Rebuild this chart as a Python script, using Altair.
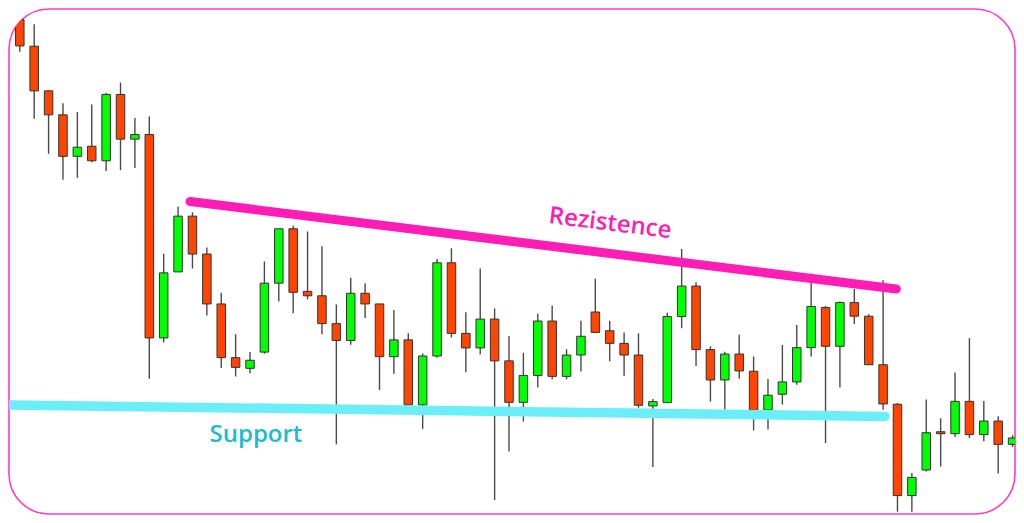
import altair as alt
import pandas as pd

# Candle OHLC levels (vertical levels, larger = lower on screen)
open_ = [12, 39.3, 85.3, 110, 152.7, 142.3, 157.3, 89, 135, 130.3,
         339.7, 271.7, 214.3, 253.3, 304.7, 360, 371, 354.3, 283.3, 227.3,
         291.7, 296.3, 325, 342.3, 293.7, 304.7, 359, 341.7, 408.7, 358.3,
         262.3, 335, 350, 320.3, 363.3, 406, 378.3, 322.3, 379.3, 357.3,
         313, 332.3, 345.3, 357.3, 409.7, 406.3, 317.7, 286.3, 351.7, 383,
         356.3, 374, 414, 397.7, 385, 349.7, 308.3, 348.3, 303.3, 317.3,
         367.3, 408, 502, 475.7, 436.3, 438.3, 405, 439.3, 425.3, 449.3]
high = [5, 16.7, 85, 98, 107, 99.3, 87.3, 76.7, 113.3, 111.7,
        253, 204.7, 210.3, 246.7, 293.3, 336, 354.3, 261, 227.3, 224.3,
        230, 245.3, 305.3, 277.7, 283.3, 304.7, 311, 335, 355.7, 258.3,
        247.3, 313.3, 268.3, 309.3, 337.7, 355, 314.7, 306.3, 351.3, 322,
        278.7, 322, 334, 335, 402.7, 313.7, 248, 282.3, 348.3, 354,
        336.3, 358.7, 382, 347, 326.3, 273.3, 306.7, 302.3, 289.3, 315.3,
        280.3, 406.7, 478.7, 403, 422.3, 375.3, 340, 404.7, 420.3, 440]
low = [45, 114, 150, 176.7, 174.7, 158.7, 167.7, 166.7, 164.7, 381.7,
       344.3, 271.7, 268.3, 316.7, 370.7, 379.3, 376, 356, 302.3, 314.3,
       300, 336, 449.3, 346.7, 319.3, 393.3, 376.7, 408.7, 433.3, 360,
       339.3, 375, 356.7, 506.7, 456.7, 425.7, 390.7, 382.3, 382.3, 374.3,
       334, 363.7, 378.7, 411.7, 472.7, 406.3, 329.7, 368.7, 405.3, 413.3,
       381.7, 435, 434, 408.3, 388, 358.7, 448, 390.7, 325.3, 367.3,
       413.7, 518.7, 518.7, 477.3, 472, 441.7, 442.7, 446, 479.3, 452]
close = [39, 85.3, 110, 152.7, 143.3, 157.3, 89, 135, 130.3, 339.7,
         272.7, 214.3, 253.3, 304.7, 360, 370, 362.7, 283.3, 227.3, 292.7,
         296.3, 325, 342.3, 293.7, 304.7, 359, 341.7, 408.7, 358.3, 262.3,
         335, 350, 320.3, 363.3, 406, 378.3, 322.3, 379.3, 357.3, 338,
         334, 345.3, 357.3, 409, 405.3, 317.7, 286.3, 351.7, 383, 356.3,
         373.7, 414, 398.7, 385, 349.7, 307.3, 348.3, 303.3, 317.3, 367.3,
         407.7, 502, 483.3, 437.3, 438.3, 405, 439.3, 425.3, 449.3, 442.7]

# Trend lines (candle index, level)
res_x = [11.83, 60.92]
res_y = [199.2, 289.3]
sup_x = [-2.0, 60.13]
sup_y = [408.4, 420.5]

labels = ["Rezistence", "Support"]
label_x = [41.02, 16.41]
label_y = [222, 440]

n = len(open_)
df = pd.DataFrame({
    "i": list(range(n)),
    "open": open_, "high": high, "low": low, "close": close,
})
df["dir"] = ["up" if c < o else "down" for o, c in zip(open_, close)]

xs = alt.Scale(domain=[-0.403, 68.82], nice=False, zero=False)
ys = alt.Scale(domain=[1, 521], nice=False, zero=False, reverse=True)

base = alt.Chart(df)
wicks = base.mark_rule(color="#4a4a4a", strokeWidth=1.4, clip=True).encode(
    x=alt.X("i:Q", scale=xs, axis=None),
    y=alt.Y("high:Q", scale=ys, axis=None),
    y2="low:Q",
)
bodies = base.mark_bar(size=8.5, stroke="#333333", strokeWidth=1, clip=True).encode(
    x=alt.X("i:Q", scale=xs, axis=None),
    y=alt.Y("open:Q", scale=ys, axis=None),
    y2="close:Q",
    color=alt.Color("dir:N", scale=alt.Scale(domain=["up", "down"], range=["#00FF00", "#FF4500"]), legend=None),
)

res_df = pd.DataFrame({"x": res_x, "y": res_y})
sup_df = pd.DataFrame({"x": sup_x, "y": sup_y})

res_line = alt.Chart(res_df).mark_line(color="#FF1DB5", strokeWidth=9, strokeCap="round", clip=True).encode(
    x=alt.X("x:Q", scale=xs, axis=None), y=alt.Y("y:Q", scale=ys, axis=None))
sup_line = alt.Chart(sup_df).mark_line(color="#6BEEF8", strokeWidth=9.5, strokeCap="round", clip=True).encode(
    x=alt.X("x:Q", scale=xs, axis=None), y=alt.Y("y:Q", scale=ys, axis=None))

lab_df = pd.DataFrame({"t": [labels[0]], "x": [label_x[0]], "y": [label_y[0]]})
lab2_df = pd.DataFrame({"t": [labels[1]], "x": [label_x[1]], "y": [label_y[1]]})
res_text = alt.Chart(lab_df).mark_text(
    font="Open Sans", fontSize=24, fontWeight=600, color="#FF1DB5", angle=7,
    align="center", baseline="middle").encode(
    x=alt.X("x:Q", scale=xs, axis=None), y=alt.Y("y:Q", scale=ys, axis=None), text="t:N")
sup_text = alt.Chart(lab2_df).mark_text(
    font="Open Sans", fontSize=24, fontWeight=600, color="#1BBCD0",
    align="center", baseline="middle").encode(
    x=alt.X("x:Q", scale=xs, axis=None), y=alt.Y("y:Q", scale=ys, axis=None), text="t:N")

# white mask outside the rounded top-left corner of the frame
corner_mask = alt.Chart(pd.DataFrame({"k": [0]})).mark_arc(
    fill="white", innerRadius=41, outerRadius=62, clip=True
).encode(
    x=alt.value(40), y=alt.value(40),
    theta=alt.value(4.7124), theta2=alt.value(6.2832),
)

chart = alt.layer(wicks, bodies, sup_line, res_line, res_text, sup_text, corner_mask).properties(
    width=1006, height=505, padding=1, background="white"
).configure_view(
    stroke="#FF3CC8", strokeWidth=1.6, cornerRadius=40
)

chart.save("out.html", embed_options={"renderer": "svg", "actions": False})
